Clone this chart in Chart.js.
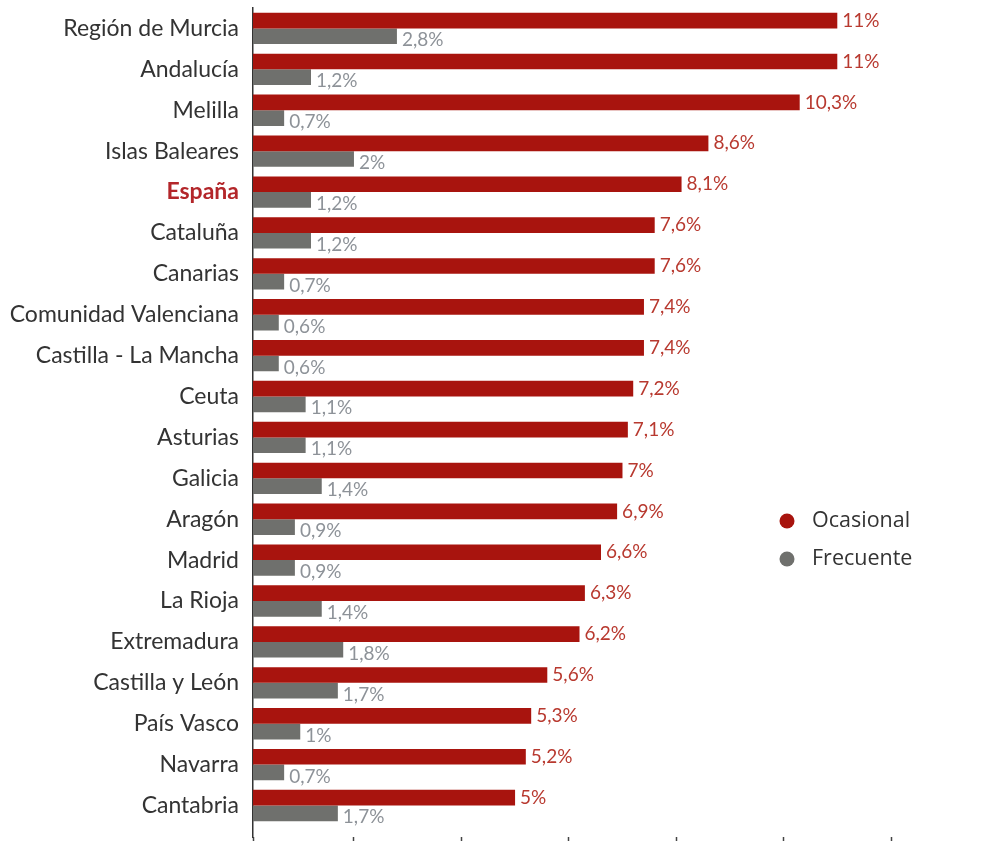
<!DOCTYPE html>
<html>
<head>
<meta charset="utf-8">
<script src="https://cdn.jsdelivr.net/npm/chart.js@4/dist/chart.umd.min.js"></script>
<style>
  html, body { margin: 0; padding: 0; background: #ffffff; overflow: hidden; }
  #wrap { width: 987px; height: 841px; }
</style>
</head>
<body>
<div id="wrap"><canvas id="c" width="987" height="841"></canvas></div>
<script>
const categories = [
  'Región de Murcia', 'Andalucía', 'Melilla', 'Islas Baleares', 'España',
  'Cataluña', 'Canarias', 'Comunidad Valenciana', 'Castilla - La Mancha', 'Ceuta',
  'Asturias', 'Galicia', 'Aragón', 'Madrid', 'La Rioja',
  'Extremadura', 'Castilla y León', 'País Vasco', 'Navarra', 'Cantabria'
];
const ocasional = [11, 11, 10.3, 8.6, 8.1, 7.6, 7.6, 7.4, 7.4, 7.2, 7.1, 7, 6.9, 6.6, 6.3, 6.2, 5.6, 5.3, 5.2, 5];
const frecuente = [2.8, 1.2, 0.7, 2, 1.2, 1.2, 0.7, 0.6, 0.6, 1.1, 1.1, 1.4, 0.9, 0.9, 1.4, 1.8, 1.7, 1, 0.7, 1.7];
const seriesNames = ['Ocasional', 'Frecuente'];
const xTickValues = [2, 4, 6, 8, 10, 12];
const highlighted = 'España';

const RED = '#A8140E';
const GRAY = '#6F706D';
const RED_TEXT = '#B8392F';
const GRAY_TEXT = '#8D9298';

const fmt = v => String(v).replace('.', ',') + '%';

const valueLabels = {
  id: 'valueLabels',
  afterDatasetsDraw(chart) {
    const ctx = chart.ctx;
    chart.data.datasets.forEach((ds, di) => {
      const meta = chart.getDatasetMeta(di);
      meta.data.forEach((bar, i) => {
        ctx.save();
        ctx.font = '19px Lato';
        ctx.fillStyle = di === 0 ? RED_TEXT : GRAY_TEXT;
        ctx.textBaseline = 'middle';
        ctx.textAlign = 'left';
        ctx.fillText(fmt(ds.data[i]), bar.x + 5, bar.y + (di === 1 ? 4 : 0));
        ctx.restore();
      });
    });
  }
};

const dotLegend = {
  id: 'dotLegend',
  afterDraw(chart) {
    const ctx = chart.ctx;
    const x0 = 787, y0 = 521, step = 38;
    chart.data.datasets.forEach((ds, i) => {
      const y = y0 + i * step;
      ctx.save();
      ctx.fillStyle = ds.backgroundColor;
      ctx.beginPath();
      ctx.arc(x0, y, 7.5, 0, Math.PI * 2);
      ctx.fill();
      ctx.font = '21.5px "Open Sans"';
      ctx.fillStyle = '#333333';
      ctx.textBaseline = 'middle';
      ctx.textAlign = 'left';
      ctx.fillText(ds.label, x0 + 25, y);
      ctx.restore();
    });
  }
};

new Chart(document.getElementById('c'), {
  type: 'bar',
  data: {
    labels: categories,
    datasets: [
      { label: seriesNames[0], data: ocasional, backgroundColor: RED, categoryPercentage: 0.766, barPercentage: 1 },
      { label: seriesNames[1], data: frecuente, backgroundColor: GRAY, categoryPercentage: 0.766, barPercentage: 1 }
    ]
  },
  options: {
    indexAxis: 'y',
    responsive: false,
    animation: false,
    layout: { padding: { top: 8, right: 96, bottom: 0, left: 0 } },
    scales: {
      x: {
        type: 'linear',
        min: 0.12,
        max: 12,
        afterBuildTicks: s => { s.ticks = [s.min].concat(xTickValues).map(v => ({ value: v })); },
        grid: { drawOnChartArea: false, drawTicks: true, tickLength: 4, tickColor: '#444', tickWidth: 1.5 },
        border: { display: false },
        ticks: { display: false }
      },
      y: {
        afterBuildTicks: s => { s._valueRange = s._valueRange + 0.27; },
        afterFit: s => { s.width = 253; s.paddingTop = 0; s.paddingBottom = 0; },
        grid: { display: false, drawTicks: false },
        border: { display: true, color: '#333333', width: 1.5 },
        ticks: {
          padding: 14,
          autoSkip: false,
          color: c => (categories[c.index] === highlighted ? '#B3262A' : '#333333'),
          font: c => (categories[c.index] === highlighted
            ? { family: 'Lato', size: 23, weight: 'bold' }
            : { family: 'Lato', size: 23 })
        }
      }
    },
    plugins: { legend: { display: false }, tooltip: { enabled: false } }
  },
  plugins: [valueLabels, dotLegend]
});
</script>
</body>
</html>
